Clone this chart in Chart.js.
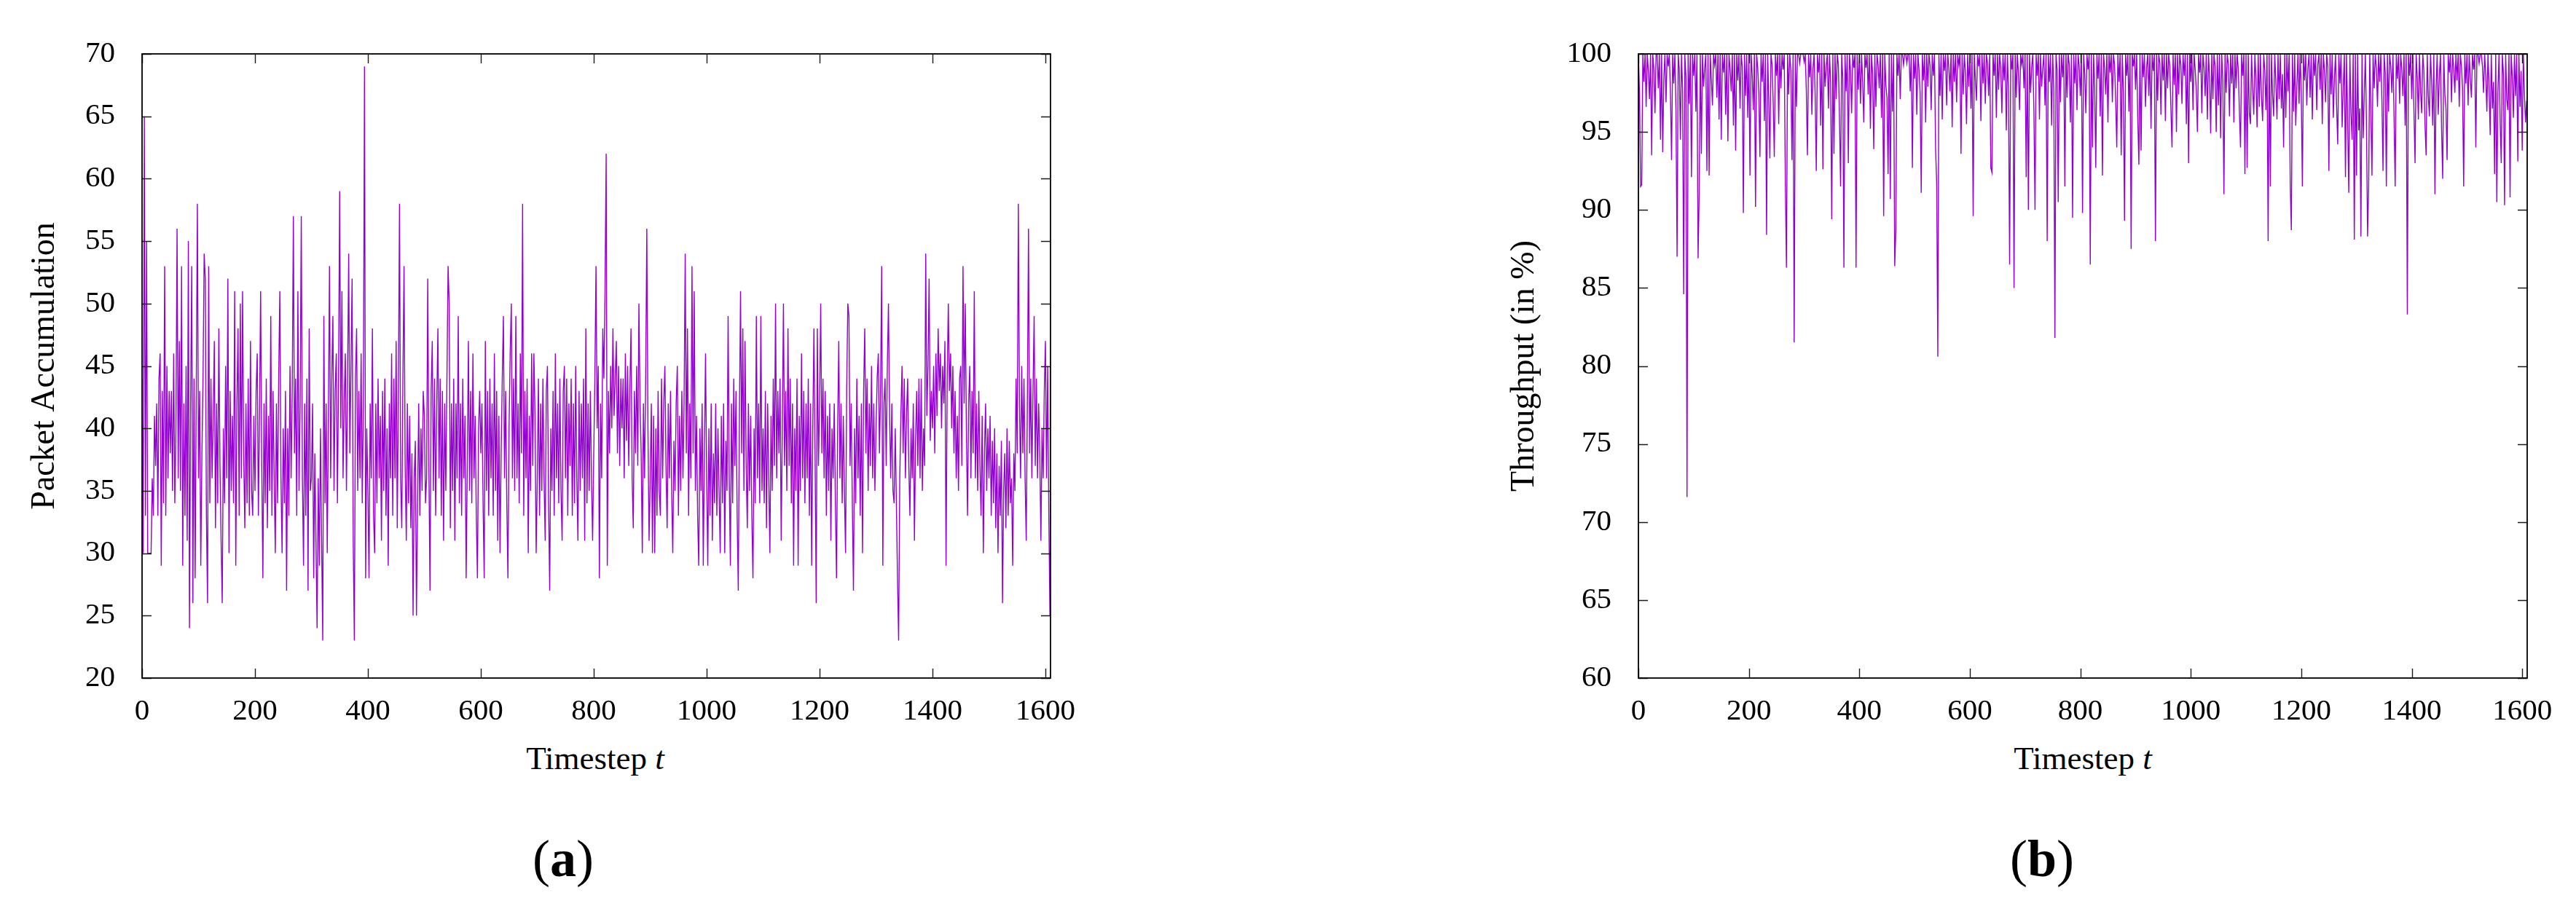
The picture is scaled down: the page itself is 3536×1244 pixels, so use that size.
<!DOCTYPE html>
<html><head><meta charset="utf-8">
<script src="https://cdn.jsdelivr.net/npm/chart.js@4.4.1/dist/chart.umd.min.js"></script>
<style>
html,body{margin:0;padding:0;background:#fff;width:3536px;height:1244px;overflow:hidden;}
canvas{position:absolute;top:0;}
.lbl{position:absolute;font-family:"Liberation Serif",serif;color:#000;text-align:center;white-space:nowrap;line-height:1;}
</style></head><body>
<canvas id="ca" style="left:0px" width="1500" height="1010"></canvas>
<canvas id="cb" style="left:2000px" width="1536" height="1010"></canvas>
<div class="lbl" style="left:617px;width:400px;top:1019px;font-size:45px">Timestep <i>t</i></div>
<div class="lbl" style="left:2659px;width:400px;top:1019px;font-size:45px">Timestep <i>t</i></div>
<div class="lbl" style="left:673px;width:200px;top:1143px;font-size:72px">(<b>a</b>)</div>
<div class="lbl" style="left:2703px;width:200px;top:1143px;font-size:72px">(<b>b</b>)</div>
<script>
// Values every 2 timesteps (t = 0, 2, 4, ..., 1608)
const sampleInterval = 2;

// Panel (a): packet accumulation
const packetAccumulation = [
44,30,65,33,55,30,30,30,30,36, 33,41,37,42,33,44,46,29,43,34, 53,33,45,36,43,38,43,35,46,34, 40,56,36,47,35,53,29,42,33,45, 31,55,24,42,53,26,44,28,43,58,
36,43,29,38,44,54,52,33,26,53, 34,44,36,41,47,32,42,34,48,37, 31,26,40,34,45,36,52,30,43,35, 41,34,51,29,42,48,33,50,36,51, 38,32,42,34,44,33,47,35,33,41,
35,43,46,33,41,51,37,28,42,34, 44,32,41,35,49,33,43,36,30,42, 34,44,51,36,30,40,34,43,27,40, 33,45,36,43,57,38,44,33,51,35, 42,57,36,29,42,33,44,27,48,35,
36,42,28,38,31,24,36,29,40,31, 23,49,34,42,30,41,53,36,44,49, 35,43,46,34,44,59,40,51,36,42, 46,35,44,54,38,45,52,31,23,44, 48,35,43,36,46,34,42,69,28,40,
35,28,42,36,48,33,30,42,34,44, 36,41,31,43,35,44,33,40,29,42, 36,46,33,44,36,47,32,43,58,36, 32,44,53,37,31,42,34,41,32,38, 25,36,39,25,34,42,33,40,35,43,
41,34,36,52,37,27,43,47,35,44, 33,42,48,36,44,33,43,31,42,35, 44,53,50,32,42,35,44,31,42,36, 49,34,42,33,44,36,41,28,37,47, 35,43,34,46,36,41,33,28,40,43,
38,42,34,28,47,35,43,33,44,36, 42,33,46,35,43,31,41,30,38,44, 49,36,43,34,28,40,46,50,36,44, 35,49,36,42,34,46,38,58,33,43, 36,44,30,41,35,46,37,46,41,30,
36,44,33,42,35,44,36,31,43,45, 34,27,40,35,43,33,46,36,42,34, 44,35,31,43,45,36,44,33,42,37, 44,33,42,34,45,36,31,43,35,42, 36,44,31,48,34,42,35,43,36,31,
38,44,53,40,45,28,42,36,48,44, 51,62,29,43,38,45,40,48,41,44, 47,38,45,37,44,40,44,36,46,39, 45,37,43,48,36,32,43,38,45,37, 50,42,38,30,42,36,44,56,40,31,
36,42,30,41,30,40,33,43,35,33, 44,36,42,45,37,32,42,36,43,35, 30,39,35,42,45,33,41,35,43,36, 42,54,38,48,33,42,36,53,38,51, 35,41,33,29,40,35,42,29,38,46,
36,29,40,33,42,31,38,34,42,33, 40,35,30,41,34,42,30,39,35,49, 36,29,42,34,44,37,43,33,27,41, 51,38,48,35,47,37,32,42,35,41, 33,28,40,34,49,36,42,34,49,35,
40,34,43,32,42,36,30,41,35,44, 37,50,36,43,38,44,31,40,50,37, 43,35,48,37,44,34,42,29,40,35, 44,29,41,35,46,36,43,34,42,36, 44,33,42,29,40,48,38,26,48,37,
42,50,38,44,36,43,33,41,35,42, 31,40,36,42,34,28,40,47,36,42, 34,41,35,30,43,50,49,37,42,34, 27,40,34,44,36,41,33,42,30,43, 48,38,44,35,42,37,45,36,42,35,
40,44,46,38,43,53,29,42,44,37, 45,50,41,36,42,35,34,40,34,28, 23,36,41,45,38,44,36,41,44,37, 33,40,36,42,31,39,43,37,44,36, 44,35,40,37,54,41,45,52,39,43,
40,45,38,46,41,48,43,46,40,45, 42,47,29,44,50,43,46,40,45,38, 43,36,41,35,44,45,37,53,42,50, 40,33,42,45,36,43,38,51,36,42, 35,43,37,33,41,30,38,42,35,40,
36,41,33,39,34,40,32,38,30,37, 33,39,26,35,38,32,40,33,39,34, 36,29,38,35,44,38,58,42,36,45, 38,44,36,31,42,56,38,44,36,43, 49,37,44,36,42,38,31,40,36,43,
47,36,45,33,25
];

// Panel (b): throughput in %
const throughput = [
100,97.4,91.5,91.6,100,98.2,100,96.6,100,98.9, 97.1,100,93.5,100,99,96.2,100,100,97.8,100, 94.5,100,93.7,98.4,100,96.9,100,99.2,100,97.5, 93.2,100,98.1,100,96.4,87,100,99,94.5,100, 97.7,84.6,100,98.5,71.6,100,96.8,100,92.1,100,
98.6,100,96.3,100,86.9,91,100,93.6,100,97.9, 99.1,100,92.5,100,92.2,100,98.4,96.7,100,99.3, 100,97.2,100,95.8,100,94.5,100,98.8,100,96.1, 100,94.4,100,99,97.6,100,95.4,100,93.8,100, 98.3,100,96.5,100,99.2,89.8,100,97.3,100,95.9,
100,92.2,100,98.7,96.4,100,90.2,100,99.1,97.5, 93.4,100,98.2,100,95.7,100,88.4,100,97,93.3, 100,99.3,96.9,93.4,100,98.6,100,95.5,100,97.8, 100,99,100,91.8,86.3,100,97.4,100,98.9,93.2, 100,81.5,100,96.6,100,100,99.4,100,100,100,
99.5,100,97.6,93.5,100,98.5,100,96.1,99,100, 97.3,92.5,100,98.8,100,95.4,100,92.6,100,97.9, 99.2,100,96.5,100,98.1,89.4,100,93.6,100,97.1, 100,99.3,95.9,91.5,100,98.4,86.3,100,97.6,100, 93,100,98.9,96.2,100,99.1,100,86.3,100,97.7,
100,96.8,100,98.2,95.6,100,99.1,100,97.4,100, 95.2,100,98.7,93.9,100,96.6,100,99.3,97.8,100, 95.9,100,89.6,100,98,97.2,92.3,100,90.7,100, 96.3,100,86.4,88.7,100,98.6,100,97.1,100,100, 99.3,100,100,99.4,100,100,97.6,100,92.7,100,
98.4,100,96.1,100,99,97.5,91.1,100,98.3,100, 95.6,100,97.9,100,99.2,96.4,100,98.6,100,93.9, 91.7,80.6,100,97.3,100,95.8,100,98.9,100,96.7, 100,99.1,97.6,100,95.3,100,98.2,100,96.9,100, 99.3,100,93.6,100,97.4,100,98.8,95.5,100,97.9,
100,96.5,100,89.6,100,98.4,97,100,99.2,100, 95.7,100,98.1,100,96.8,100,99.4,97.3,100,92.7, 92.4,100,98.6,100,95.9,100,97.7,100,99.1,96.2, 100,98.3,100,95.1,100,97.6,86.5,100,99,100, 85,100,97.2,100,98.7,96.4,100,99.3,100,97.8,
100,92.1,100,90,100,97.5,99.2,100,96.3,90, 100,98.6,100,95.8,100,97.9,99.1,100,96.7,100, 88,100,98.2,100,95.4,100,97.6,81.8,100,99, 90.5,100,96.9,100,98.5,100,91.5,100,97.2,100, 99.3,95.6,100,89.5,100,98.1,100,96.4,100,99.2,
97.3,100,89.8,100,98.7,96.2,100,99,100,86.5, 100,94,100,97.8,92.7,100,98.4,100,96,100, 92.2,100,99.1,97.4,100,95.6,100,98.8,100,96.9, 100,99.3,97.1,94,100,98.2,100,93.5,100,97.5, 89.3,100,98.6,100,96.3,100,87.5,100,99.2,100,
97.7,100,95.9,92.9,100,93.8,100,98.5,100,96.6, 99.1,100,97.3,100,95.2,100,98.9,100,88,100, 97,100,99.4,96.1,100,98.3,100,95.7,100,97.8, 100,99.2,96.5,94,100,98,100,95,100,97.4, 100,99.3,96.8,100,98.6,100,95.5,100,93,100,
98.2,100,96.4,100,99,97.6,95,100,98.8,100, 96.2,100,99.1,97.3,100,95.8,100,98.5,94.9,100, 97.1,100,99.2,95,100,96.7,100,94.6,100,98.3, 91,100,97.5,100,99.3,96,100,98.1,100,95.6, 100,97.8,100,99,96.3,94,100,98.6,100,92.3,
100,92.7,100,96.2,95.5,100,97.8,96.1,100,98.4, 95.3,100,96.6,100,97.2,95.7,100,98.9,96.4,100, 88,100,91.5,100,97.4,96,100,98.2,95.8,100, 97.1,100,96.5,98.7,94,100,95.9,100,97.6,100, 91.7,88.7,100,96.3,100,95.4,97.9,100,96.8,100,
97.5,91.5,100,98.3,100,96.7,99.1,100,97.2,100, 95.8,100,98.6,100,96.4,99.3,100,97.7,100,95.5, 100,98.9,96.9,100,99.2,92.5,100,97.4,100,95.9, 98.4,100,96.6,94.2,100,98.1,100,95.3,97.8,100, 92.1,100,95.6,91.1,100,96.2,94.5,100,88.1,100,
92.2,100,95.1,96.5,88.3,100,94.6,97.3,100,95.7, 88.3,91.5,100,96.4,92.2,100,97.8,100,99.1,96.6, 100,98.2,100,97,92.5,100,98.8,91.5,100,96.3, 100,99.2,97.5,100,95.9,91.5,100,98.4,100,96.8, 100,99,97.3,100,95.4,100,83.3,100,98.6,100,
97.1,100,96.3,93,100,98.5,95.8,100,97.6,96.2, 100,98.9,95.5,93.5,100,97.3,96,100,98.2,95.4, 100,91,97.7,100,96.1,98.6,100,95.2,92,100, 97.4,96.5,93.2,100,98.8,100,96.9,100,99.1,97.5, 100,98.3,100,96.6,100,99.2,97.8,91.5,100,98.1,
100,96.7,100,98.4,97.2,100,99,100,94,100, 100,99.4,100,100,99.2,97.5,100,98.6,96.3,100, 97.9,94.8,100,96.5,98.2,92.3,100,90.5,97.6,100, 95.8,93,100,98.7,90.3,100,97.1,96.4,100,90.8, 100,98.5,95.9,100,97.3,100,93.1,100,96.6,98.9,
93.8,100,97.4,95.6,97
];

const xMax = 1609;
const xTickValues = [0, 200, 400, 600, 800, 1000, 1200, 1400, 1600];
const panelA = {yMin: 20, yMax: 70, yStep: 5, yTitle: 'Packet Accumulation'};
const panelB = {yMin: 60, yMax: 100, yStep: 5, yTitle: 'Throughput (in %)'};

const FONT = '"Liberation Serif", serif';
const LINE_COLOR = '#9400d3';

const frameTicks = {
  id: 'frameTicks',
  afterDraw(chart) {
    const {ctx, chartArea: {left, right, top, bottom}, scales: {x, y}} = chart;
    const L = 13;
    ctx.save();
    ctx.strokeStyle = '#1a1a1a';
    ctx.lineWidth = 1.4;
    ctx.beginPath();
    x.ticks.forEach(t => {
      const px = Math.round(x.getPixelForValue(t.value)) + 0.5;
      ctx.moveTo(px, bottom); ctx.lineTo(px, bottom - L);
      ctx.moveTo(px, top); ctx.lineTo(px, top + L);
    });
    y.ticks.forEach(t => {
      const py = Math.round(y.getPixelForValue(t.value)) + 0.5;
      ctx.moveTo(left, py); ctx.lineTo(left + L, py);
      ctx.moveTo(right, py); ctx.lineTo(right - L, py);
    });
    ctx.stroke();
    ctx.lineWidth = 1.8;
    ctx.strokeStyle = '#000';
    ctx.strokeRect(left, top, right - left, bottom - top);
    ctx.restore();
  }
};

function makeChart(id, values, panel, axisWidth, titlePad, padRight) {
  const pts = values.map((v, i) => ({x: i * sampleInterval, y: v}));
  return new Chart(document.getElementById(id), {
    type: 'line',
    data: {datasets: [{data: pts, borderColor: LINE_COLOR, borderWidth: 1.4, pointRadius: 0, tension: 0, fill: false}]},
    options: {
      responsive: false, animation: false, devicePixelRatio: 1,
      layout: {padding: {top: 74, right: padRight, bottom: 0, left: 0}},
      plugins: {legend: {display: false}, tooltip: {enabled: false}},
      scales: {
        x: {
          type: 'linear', min: 0, max: xMax,
          grid: {display: false}, border: {display: false},
          afterBuildTicks(s) { s.ticks = xTickValues.map(v => ({value: v})); },
          ticks: {autoSkip: false, maxRotation: 0, padding: 14, color: '#000', font: {family: FONT, size: 41},
                  callback: v => String(v)},
          afterFit(s) { s.height = 79; }
        },
        y: {
          min: panel.yMin, max: panel.yMax,
          grid: {display: false}, border: {display: false},
          ticks: {stepSize: panel.yStep, padding: 29, color: '#000', font: {family: FONT, size: 41}},
          title: {display: true, text: panel.yTitle, color: '#000', font: {family: FONT, size: 46}, padding: {top: titlePad, bottom: 0}},
          afterFit(s) { s.width = axisWidth; }
        }
      }
    },
    plugins: [frameTicks]
  });
}

makeChart('ca', packetAccumulation, panelA, 195, 34, 58);
makeChart('cb', throughput, panelB, 249, 65, 67);
</script>
</body></html>
